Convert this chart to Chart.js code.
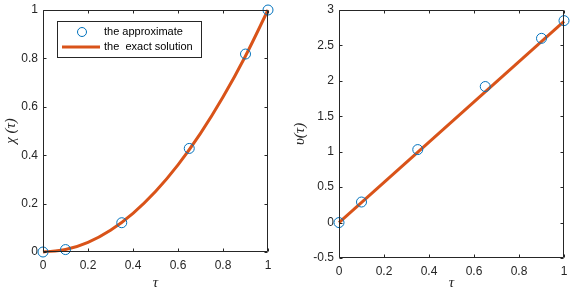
<!DOCTYPE html>
<html>
<head>
<meta charset="utf-8">
<script src="https://cdn.jsdelivr.net/npm/chart.js@4.4.1/dist/chart.umd.min.js"></script>
<style>
html,body{margin:0;padding:0;background:#fff;}
#wrap{position:relative;width:577px;height:292px;overflow:hidden;}
canvas{position:absolute;top:0;}
</style>
</head>
<body>
<div id="wrap">
<canvas id="c1" width="289" height="292" style="left:0;width:289px;height:292px"></canvas>
<canvas id="c2" width="288" height="292" style="left:289px;width:288px;height:292px"></canvas>
</div>
<script>
// ---- data ----
const tauApprox = [0, 0.1, 0.35, 0.65, 0.9, 1];
const chiApprox = [0, 0.01, 0.121, 0.428, 0.818, 1];
const upsApprox = [0, 0.29, 1.03, 1.92, 2.60, 2.85];

const tauExact = [0, 0.1, 0.2, 0.3, 0.4, 0.5, 0.6, 0.7, 0.8, 0.9, 1];
const chiExact = [0, 0.01, 0.04, 0.09, 0.16, 0.25, 0.36, 0.49, 0.64, 0.81, 1];
const tauExactLine = [0, 1];
const upsExact = [0, 2.84];

const xTicks = [0, 0.2, 0.4, 0.6, 0.8, 1];
const xTickLabels = ['0', '0.2', '0.4', '0.6', '0.8', '1'];
const chiTicks = [0, 0.2, 0.4, 0.6, 0.8, 1];
const chiTickLabels = ['0', '0.2', '0.4', '0.6', '0.8', '1'];
const upsTicks = [-0.5, 0, 0.5, 1, 1.5, 2, 2.5, 3];
const upsTickLabels = ['-0.5', '0', '0.5', '1', '1.5', '2', '2.5', '3'];

const legendLabels = ['the approximate', 'the  exact solution'];

const MARK = '#0072BD';
const LINE = '#D95319';
const AX = '#262626';
const FONT = "'Liberation Sans', Arial, Helvetica, sans-serif";
const MATHFONT = "'Liberation Serif', 'DejaVu Serif', serif";

Chart.defaults.font.family = FONT;
Chart.defaults.color = AX;

function pts(xs, ys) { return xs.map((x, i) => ({x: x, y: ys[i]})); }

const framePlugin = {
  id: 'frame',
  afterDatasetsDraw(chart) {
    const {ctx, chartArea: a, scales} = chart;
    ctx.save();
    ctx.strokeStyle = AX;
    ctx.lineWidth = 1;
    const L = Math.round(a.left) + 0.5, R = Math.round(a.right) - 0.5;
    const T = Math.round(a.top) + 0.5, B = Math.round(a.bottom) - 0.5;
    ctx.beginPath();
    ctx.rect(L, T, R - L, B - T);
    const tl = 3;
    scales.x.ticks.forEach(t => {
      const px = Math.round(scales.x.getPixelForValue(t.value)) + 0.5;
      ctx.moveTo(px, B); ctx.lineTo(px, B - tl);
      ctx.moveTo(px, T); ctx.lineTo(px, T + tl);
    });
    scales.y.ticks.forEach(t => {
      const py = Math.round(scales.y.getPixelForValue(t.value)) + 0.5;
      ctx.moveTo(L, py); ctx.lineTo(L + tl, py);
      ctx.moveTo(R, py); ctx.lineTo(R - tl, py);
    });
    ctx.stroke();
    ctx.restore();
  }
};

const legendPlugin = {
  id: 'boxLegend',
  afterDraw(chart) {
    const {ctx, chartArea: a} = chart;
    const x0 = a.left + 14, y0 = a.top + 11, w = 144, h = 36;
    ctx.save();
    ctx.fillStyle = '#fff';
    ctx.fillRect(x0, y0, w, h);
    ctx.strokeStyle = AX;
    ctx.lineWidth = 1;
    ctx.strokeRect(Math.round(x0) + 0.5, Math.round(y0) + 0.5, w, h);
    ctx.strokeStyle = MARK;
    ctx.beginPath();
    ctx.arc(x0 + 25, y0 + 11, 4.5, 0, Math.PI * 2);
    ctx.stroke();
    ctx.strokeStyle = LINE;
    ctx.lineWidth = 3;
    ctx.beginPath();
    ctx.moveTo(x0 + 5, y0 + 26);
    ctx.lineTo(x0 + 43, y0 + 26);
    ctx.stroke();
    ctx.fillStyle = '#000';
    ctx.font = '11px ' + FONT;
    ctx.textBaseline = 'middle';
    ctx.fillText(legendLabels[0], x0 + 47, y0 + 11);
    ctx.fillText(legendLabels[1], x0 + 47, y0 + 26);
    ctx.restore();
  }
};

function makeChart(id, ySeriesApprox, exactX, exactY, yMin, yMax, yTicks, yLabels, yTitle, yWidth, xHeight, padRight, smooth, extraPlugins) {
  return new Chart(document.getElementById(id), {
    type: 'scatter',
    data: {
      datasets: [
        {
          label: legendLabels[1],
          type: 'line',
          data: pts(exactX, exactY),
          borderColor: LINE,
          borderWidth: 3,
          pointRadius: 0,
          fill: false,
          cubicInterpolationMode: smooth ? 'monotone' : 'default',
          tension: 0,
          clip: false,
          order: 2
        },
        {
          label: legendLabels[0],
          data: pts(tauApprox, ySeriesApprox),
          pointStyle: 'circle',
          pointRadius: 5,
          pointBorderWidth: 1,
          pointBorderColor: MARK,
          pointBackgroundColor: 'rgba(0,0,0,0)',
          showLine: false,
          clip: false,
          order: 1
        }
      ]
    },
    options: {
      responsive: false,
      devicePixelRatio: 1,
      animation: false,
      layout: {padding: {top: 10, right: padRight, left: 0, bottom: 0}},
      plugins: {legend: {display: false}, tooltip: {enabled: false}},
      scales: {
        x: {
          type: 'linear', min: 0, max: 1,
          afterBuildTicks: s => { s.ticks = xTicks.map(v => ({value: v})); },
          afterFit: s => { s.height = xHeight; s.paddingLeft = 0; s.paddingRight = 0; },
          grid: {display: false, drawTicks: false},
          border: {display: false},
          ticks: {
            padding: 6,
            font: {size: 12},
            color: AX,
            maxRotation: 0,
            callback: (v) => xTickLabels[xTicks.indexOf(v)]
          },
          title: {
            display: true, text: 'τ',
            font: {family: MATHFONT, style: 'italic', size: 15},
            color: AX, padding: {top: 0, bottom: 0}
          }
        },
        y: {
          type: 'linear', min: yMin, max: yMax,
          afterBuildTicks: s => { s.ticks = yTicks.map(v => ({value: v})); },
          afterFit: s => { s.width = yWidth; s.paddingTop = 0; s.paddingBottom = 0; },
          grid: {display: false, drawTicks: false},
          border: {display: false},
          ticks: {
            padding: 5,
            font: {size: 12},
            color: AX,
            callback: (v) => yLabels[yTicks.indexOf(v)]
          },
          title: {
            display: true, text: yTitle,
            font: {family: MATHFONT, style: 'italic', size: 15},
            color: AX, padding: {top: 2, bottom: 0}
          }
        }
      }
    },
    plugins: [framePlugin].concat(extraPlugins)
  });
}

makeChart('c1', chiApprox, tauExact, chiExact, 0, 1, chiTicks, chiTickLabels, 'χ (τ)', 43, 40, 21, true, [legendPlugin]);
makeChart('c2', upsApprox, tauExactLine, upsExact, -0.5, 3, upsTicks, upsTickLabels, 'υ(τ)', 50, 34, 13, false, []);
</script>
</body>
</html>
